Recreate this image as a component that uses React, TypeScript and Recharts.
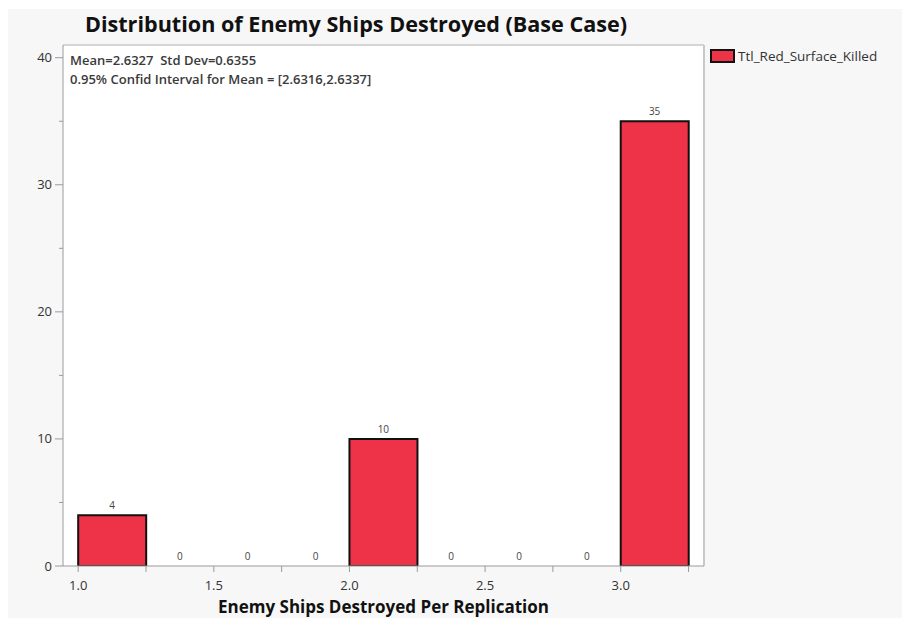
import { Bar, CartesianGrid, ComposedChart, Legend, ReferenceLine, Scatter, XAxis, YAxis } from "recharts";

const binStarts = [1.0, 1.25, 1.5, 1.75, 2.0, 2.25, 2.5, 2.75, 3.0];
const counts = [4, 0, 0, 0, 10, 0, 0, 0, 35];
const binWidth = 0.25;

const xTicks = [1.0, 1.25, 1.5, 1.75, 2.0, 2.25, 2.5, 2.75, 3.0, 3.25];
const xLabelled = [1.0, 1.5, 2.0, 2.5, 3.0];
const yTicks = [0, 5, 10, 15, 20, 25, 30, 35, 40];
const yLabelled = [0, 10, 20, 30, 40];

const xDomain = [0.944, 3.307];
const yDomain = [0, 41];

const seriesName = "Ttl_Red_Surface_Killed";
const statsLine1 = "Mean=2.6327  Std Dev=0.6355";
const statsLine2 = "0.95% Confid Interval for Mean = [2.6316,2.6337]";

const data = binStarts.map((start, i) => ({
  mid: start + binWidth / 2,
  count: counts[i],
}));

const FONT = "'Open Sans', 'Noto Sans', sans-serif";
const BAR_FILL = "#ee3247";
const FRAME = "#c8c8c8";
const AXIS = "#9a9a9a";

const X_TICK_SIZE = 6;
const X_TICK_MARGIN = 6;
const Y_TICK_SIZE = 8;
const Y_TICK_MARGIN = 3;

function XTick(props: any) {
  const { x, y, payload } = props;
  const axisY = y - X_TICK_SIZE - X_TICK_MARGIN;
  const labelled = xLabelled.some((v) => Math.abs(v - payload.value) < 1e-6);
  return (
    <g>
      <line x1={x} x2={x} y1={axisY} y2={axisY + 6} stroke={AXIS} strokeWidth={1} />
      {labelled && (
        <text x={x} y={axisY + 24} textAnchor="middle" fontSize={13} fill="#333" fontFamily={FONT}>
          {payload.value.toFixed(1)}
        </text>
      )}
    </g>
  );
}

function YTick(props: any) {
  const { x, y, payload } = props;
  const axisX = x + Y_TICK_SIZE + Y_TICK_MARGIN;
  const labelled = yLabelled.includes(payload.value);
  return (
    <g>
      <line x1={axisX - (labelled ? 8 : 4)} x2={axisX} y1={y} y2={y} stroke={AXIS} strokeWidth={1} />
      {labelled && (
        <text x={x} y={y + 4.5} textAnchor="end" fontSize={13} fill="#333" fontFamily={FONT}>
          {payload.value}
        </text>
      )}
    </g>
  );
}

// count labels above each bin, including the empty ones
function CountLabel(props: any) {
  const { cx, cy, payload } = props;
  return (
    <text x={cx} y={cy - 6} textAnchor="middle" fontSize={10} fill="#444" fontFamily={FONT}>
      {payload.count}
    </text>
  );
}

function LegendContent() {
  return (
    <div style={{ display: "flex", alignItems: "center", fontFamily: FONT, fontSize: 13.5, color: "#333" }}>
      <span
        style={{
          display: "inline-block",
          width: 21,
          height: 10,
          background: BAR_FILL,
          border: "2px solid #111",
          marginRight: 3,
        }}
      />
      <span>{seriesName}</span>
    </div>
  );
}

export default function App() {
  return (
    <div style={{ position: "relative", width: 902, height: 618, overflow: "hidden", background: "#fff", fontFamily: FONT }}>
      <style>{"body{margin:0}"}</style>
      <div style={{ position: "absolute", left: 8, top: 9, right: 0, bottom: 0, background: "#f7f7f7" }} />

      <div style={{ position: "absolute", left: 8, top: 8, width: 894, height: 610 }}>
        <div
          style={{
            position: "absolute",
            left: 0,
            width: 696,
            top: 1,
            textAlign: "center",
            fontSize: 21.6,
            fontWeight: 700,
            color: "#111",
          }}
        >
          Distribution of Enemy Ships Destroyed (Base Case)
        </div>

        <ComposedChart
          width={894}
          height={610}
          data={data}
          margin={{ top: 37, right: 198, bottom: 0, left: 0 }}
          barCategoryGap={0}
          barGap={0}
        >
          <CartesianGrid fill="#ffffff" horizontal={false} vertical={false} />
          <XAxis
            type="number"
            dataKey="mid"
            domain={xDomain}
            ticks={xTicks}
            allowDataOverflow
            height={52}
            tickSize={X_TICK_SIZE}
            tickMargin={X_TICK_MARGIN}
            tickLine={false}
            tick={<XTick />}
            interval={0}
            axisLine={{ stroke: AXIS }}
            label={{
              value: "Enemy Ships Destroyed Per Replication",
              position: "insideBottom",
              offset: 5,
              fontSize: 17,
              fontWeight: 700,
              fill: "#111",
              fontFamily: FONT,
            }}
          />
          <YAxis
            type="number"
            domain={yDomain}
            ticks={yTicks}
            allowDataOverflow
            width={55}
            tickSize={Y_TICK_SIZE}
            tickMargin={Y_TICK_MARGIN}
            tickLine={false}
            tick={<YTick />}
            interval={0}
            axisLine={{ stroke: AXIS }}
          />
          <ReferenceLine y={yDomain[1]} stroke={FRAME} strokeWidth={1.5} ifOverflow="visible" />
          <ReferenceLine x={xDomain[1]} stroke={FRAME} strokeWidth={2} ifOverflow="visible" />
          <Legend
            layout="horizontal"
            verticalAlign="middle"
            align="center"
            content={<LegendContent />}
            wrapperStyle={{ left: 702, top: 39, width: 190, height: 20 }}
          />
          <Bar
            dataKey="count"
            name={seriesName}
            fill={BAR_FILL}
            stroke="#111"
            strokeWidth={2}
            isAnimationActive={false}
          />
          <Scatter dataKey="count" shape={<CountLabel />} legendType="none" isAnimationActive={false} />
        </ComposedChart>

        <div
          style={{
            position: "absolute",
            left: 62,
            top: 43,
            fontSize: 13,
            fontWeight: 600,
            color: "#3a3a3a",
            lineHeight: "19px",
            whiteSpace: "pre",
          }}
        >
          <div>{statsLine1}</div>
          <div>{statsLine2}</div>
        </div>
      </div>
    </div>
  );
}
